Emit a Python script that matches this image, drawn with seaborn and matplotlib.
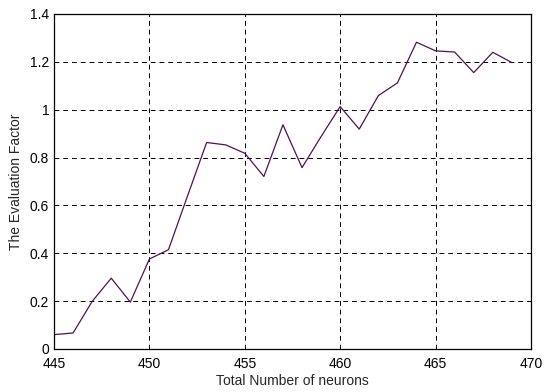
import matplotlib
matplotlib.use('Agg')
import matplotlib.pyplot as plt
import seaborn as sns
import pandas as pd

neurons = list(range(445, 470))
factor = [0.06, 0.067, 0.199, 0.296, 0.196, 0.376, 0.415, 0.64, 0.863, 0.853,
          0.818, 0.721, 0.937, 0.758, 0.888, 1.013, 0.919, 1.059, 1.112, 1.282,
          1.246, 1.241, 1.155, 1.240, 1.197]
xticks = [445, 450, 455, 460, 465, 470]
yticks = [0, 0.2, 0.4, 0.6, 0.8, 1.0, 1.2, 1.4]
ytick_labels = ['0', '0.2', '0.4', '0.6', '0.8', '1', '1.2', '1.4']

sns.set_style('white')
plt.rcParams['font.family'] = ['Liberation Sans', 'DejaVu Sans']

df = pd.DataFrame({'neurons': neurons, 'factor': factor})

fig = plt.figure(figsize=(5.44, 3.92), dpi=100)
ax = fig.add_axes([0.0993, 0.1097, 0.8767, 0.8546])
sns.lineplot(data=df, x='neurons', y='factor', color='#4f1450', linewidth=0.9, ax=ax)

ax.set_xlim(445, 470)
ax.set_ylim(0, 1.4)
ax.set_xticks(xticks)
ax.set_yticks(yticks)
ax.set_yticklabels(ytick_labels)
ax.grid(True, color='black', linestyle=(0, (5, 4)), linewidth=0.7)
ax.tick_params(direction='in', length=4, labelsize=10, colors='black')
ax.tick_params(axis='x', pad=6)
ax.tick_params(axis='y', pad=3.5)
for s in ax.spines.values():
    s.set_color('black')
    s.set_linewidth(0.9)
ax.set_xlabel('Total Number of neurons', fontsize=10, labelpad=2)
ax.set_ylabel('The Evaluation Factor', fontsize=10, labelpad=5)

fig.savefig('out.png', dpi=100)
